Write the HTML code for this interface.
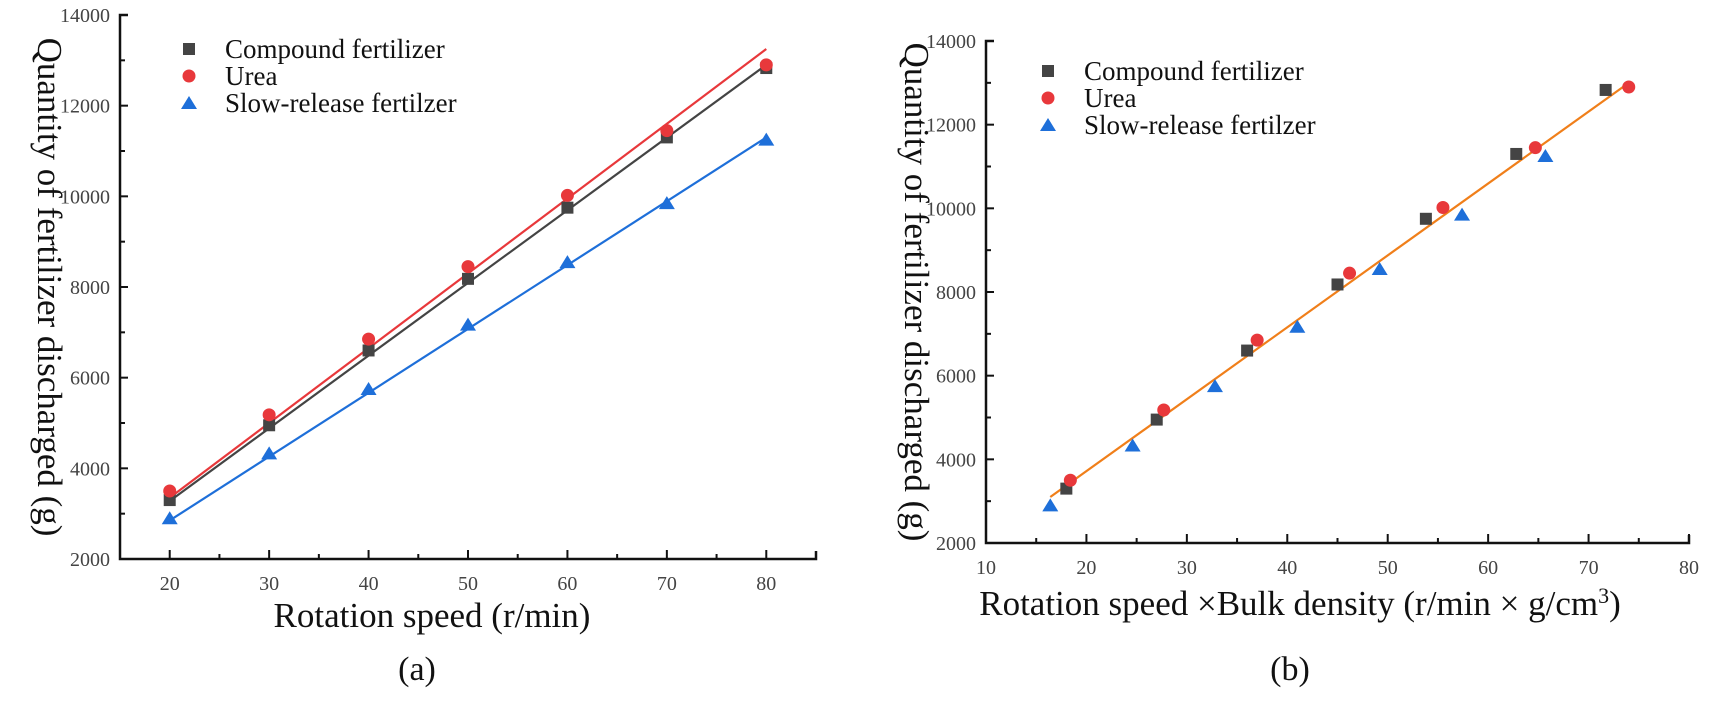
<!DOCTYPE html>
<html><head><meta charset="utf-8"><style>
body{margin:0;background:#fff;}
svg{display:block;font-family:"Liberation Serif",serif;}
.tk{font-size:20px;fill:#444;}
.lg{font-size:27px;fill:#111;}
.ttl{font-size:35px;fill:#111;}
.cap{font-size:34px;fill:#111;}
</style></head><body>
<svg id="chart" width="1713" height="702" viewBox="0 0 1713 702" xmlns="http://www.w3.org/2000/svg"></svg>
<script>
// Panel (a) data
const speeds = [20, 30, 40, 50, 60, 70, 80];
const compoundA = [3300, 4950, 6600, 8180, 9750, 11300, 12830];
const ureaA = [3500, 5180, 6850, 8450, 10020, 11450, 12900];
const slowA = [2900, 4330, 5750, 7170, 8550, 9850, 11250];
const fitCompoundA = [3280, 12900];
const fitUreaA = [3350, 13250];
const fitSlowA = [2850, 11300];
const xTicksA = [20, 30, 40, 50, 60, 70, 80];
const yTicks = [2000, 4000, 6000, 8000, 10000, 12000, 14000];
// Panel (b) data
const compoundBx = [18, 27, 36, 45, 53.8, 62.8, 71.7];
const ureaBx = [18.4, 27.7, 37, 46.2, 55.5, 64.7, 74];
const slowBx = [16.4, 24.6, 32.8, 41, 49.2, 57.4, 65.7];
const fitBx = [16.4, 74];
const fitBy = [3100, 13000];
const xTicksB = [10, 20, 30, 40, 50, 60, 70, 80];

const NS = "http://www.w3.org/2000/svg";
const svg = document.getElementById('chart');
function mk(tag, attrs, parent) {
  const e = document.createElementNS(NS, tag);
  for (const k in attrs) e.setAttribute(k, attrs[k]);
  (parent || svg).appendChild(e);
  return e;
}
const COL = {c: '#444', u: '#e8383b', s: '#1e6fd9', fit: '#f07f1a'};

function marker(g, type, x, y) {
  let e;
  if (type === 'c') e = mk('rect', {x: x - 6, y: y - 6, width: 12, height: 12, fill: COL.c}, g);
  else if (type === 'u') e = mk('circle', {cx: x, cy: y, r: 6.5, fill: COL.u}, g);
  else e = mk('polygon', {points: `${x},${y - 7} ${x - 8},${y + 6} ${x + 8},${y + 6}`, fill: COL.s}, g);
  
  
}

function panel(p) {
  const g = mk('g', {});
  
  
  const sx = v => p.x0 + (v - p.xmin) / (p.xmax - p.xmin) * (p.x1 - p.x0);
  const sy = v => p.y0 - (v - 2000) / 12000 * (p.y0 - p.y1);
  const ax = mk('path', {d: `M${p.x0 + 8},${p.y1} H${p.x0} V${p.y0} H${p.x1} V${p.y0 - 8}`, fill: 'none', stroke: '#111', 'stroke-width': 2.5}, g);
  
  
  yTicks.forEach((v, i) => {
    mk('line', {x1: p.x0, x2: p.x0 + 8, y1: sy(v), y2: sy(v), stroke: '#111', 'stroke-width': 2}, g);
    if (i < yTicks.length - 1) mk('line', {x1: p.x0, x2: p.x0 + 5, y1: sy(v + 1000), y2: sy(v + 1000), stroke: '#111', 'stroke-width': 2}, g);
    const t = mk('text', {x: p.x0 - 10, y: sy(v) + 7, 'text-anchor': 'end', class: 'tk'}, g);
    t.textContent = v;
    
    
  });
  p.xticks.forEach((v, i) => {
    if (sx(v) > p.x0 + 2) mk('line', {x1: sx(v), x2: sx(v), y1: p.y0, y2: p.y0 - 9, stroke: '#111', 'stroke-width': 2}, g);
    if (sx(v + 5) < p.x1 - 2) mk('line', {x1: sx(v + 5), x2: sx(v + 5), y1: p.y0, y2: p.y0 - 5, stroke: '#111', 'stroke-width': 2}, g);
    if (sx(v - 5) > p.x0 + 2 && i === 0) mk('line', {x1: sx(v - 5), x2: sx(v - 5), y1: p.y0, y2: p.y0 - 5, stroke: '#111', 'stroke-width': 2}, g);
    const t = mk('text', {x: sx(v), y: p.y0 + 31, 'text-anchor': 'middle', class: 'tk'}, g);
    t.textContent = v;
    
    
  });
  p.lines.forEach(l => {
    const e = mk('line', {x1: sx(l.x[0]), y1: sy(l.y[0]), x2: sx(l.x[1]), y2: sy(l.y[1]), stroke: l.col, 'stroke-width': 2.2}, g);
    
    
  });
  p.series.forEach(s => s.x.forEach((xv, i) => marker(g, s.type, sx(xv), sy(s.y[i]))));
  const names = ['Compound fertilizer', 'Urea', 'Slow-release fertilzer'];
  ['c', 'u', 's'].forEach((t, i) => {
    const ly = p.ly + i * 27;
    marker(g, t, p.lx, ly);
    const tx = mk('text', {x: p.lx + 36, y: ly + 9, class: 'lg'}, g);
    tx.textContent = names[i];
    
    
  });
  const xt = mk('text', {x: p.xtx, y: p.xty, 'text-anchor': 'middle', class: 'ttl'}, g);
  xt.innerHTML = p.xtitle;
  
  
  const yc = (p.y0 + p.y1) / 2;
  const yt = mk('text', {x: p.ytx, y: yc, 'text-anchor': 'middle', class: 'ttl', transform: `rotate(90 ${p.ytx} ${yc})`}, g);
  yt.textContent = 'Quantity of fertilizer discharged (g)';
  
  
  const cap = mk('text', {x: p.capx, y: p.capy, 'text-anchor': 'middle', class: 'cap'}, g);
  cap.textContent = p.cap;
  
  
}

panel({name: 'panel-a', x0: 120, x1: 816, xmin: 15, xmax: 85, y0: 559, y1: 15, xticks: xTicksA,
  lines: [{x: [20, 80], y: fitUreaA, col: '#e8383b'}, {x: [20, 80], y: fitCompoundA, col: '#444'}, {x: [20, 80], y: fitSlowA, col: '#1e6fd9'}],
  series: [{type: 'c', x: speeds, y: compoundA}, {type: 'u', x: speeds, y: ureaA}, {type: 's', x: speeds, y: slowA}],
  lx: 189, ly: 49, xtitle: 'Rotation speed (r/min)', xtx: 432, xty: 627, ytx: 38, cap: '(a)', capx: 417, capy: 680});

panel({name: 'panel-b', x0: 986, x1: 1689, xmin: 10, xmax: 80, y0: 543, y1: 41, xticks: xTicksB,
  lines: [{x: fitBx, y: fitBy, col: '#f07f1a'}],
  series: [{type: 'c', x: compoundBx, y: compoundA}, {type: 'u', x: ureaBx, y: ureaA}, {type: 's', x: slowBx, y: slowA}],
  lx: 1048, ly: 71, xtitle: 'Rotation speed ×Bulk density (r/min × g/cm<tspan dy="-12" font-size="22">3</tspan><tspan dy="12">)</tspan>', xtx: 1300, xty: 615, ytx: 905, cap: '(b)', capx: 1290, capy: 680});
</script>
</body></html>
